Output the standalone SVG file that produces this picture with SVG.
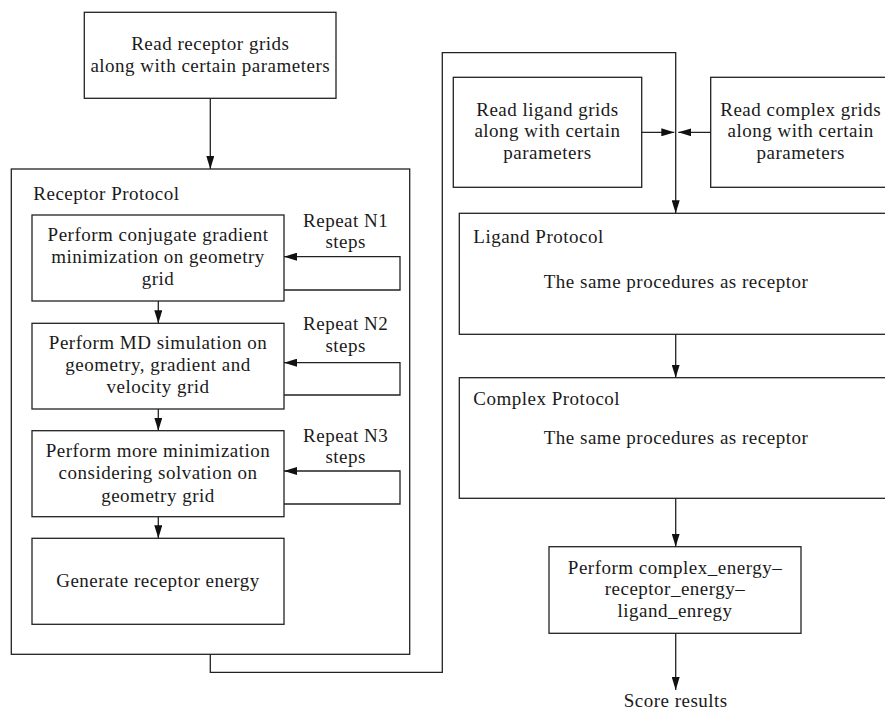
<svg xmlns="http://www.w3.org/2000/svg" width="885" height="710" viewBox="0 0 885 710">
<style>
.box{fill:#fff;stroke:#222;stroke-width:1.3}
.ln{fill:none;stroke:#222;stroke-width:1.3}
text{font-family:"Liberation Serif","Times New Roman",serif;font-size:19px;fill:#1a1a1a;letter-spacing:0.5px}
.c{text-anchor:middle}
</style>
<defs>
<marker id="ah" markerUnits="userSpaceOnUse" markerWidth="13" markerHeight="8" refX="13" refY="4" orient="auto">
<path d="M0,0 L13,4 L0,8 z" fill="#111"/>
</marker>
</defs>
<g id="receptor-grids">
<rect class="box" x="84.3" y="12.3" width="251.7" height="86"/>
<text class="c" x="210.3" y="50">Read receptor grids</text>
<text class="c" x="210.3" y="71.7">along with certain parameters</text>
</g>
<g id="receptor-protocol">
<rect class="box" x="11.3" y="169" width="398.4" height="485.3"/>
<text x="33.3" y="200">Receptor Protocol</text>
</g>
<g id="step1">
<rect class="box" x="32" y="215" width="252" height="86"/>
<text class="c" x="158" y="241">Perform conjugate gradient</text>
<text class="c" x="158" y="263.3">minimization on geometry</text>
<text class="c" x="158" y="285">grid</text>
</g>
<g id="repeat1">
<text class="c" x="345.7" y="226.7">Repeat N1</text>
<text class="c" x="345.7" y="248.3">steps</text>
</g>
<g id="step2">
<rect class="box" x="32" y="323.3" width="252" height="85.7"/>
<text class="c" x="158" y="349">Perform MD simulation on</text>
<text class="c" x="158" y="371">geometry, gradient and</text>
<text class="c" x="158" y="392.7">velocity grid</text>
</g>
<g id="repeat2">
<text class="c" x="345.7" y="330">Repeat N2</text>
<text class="c" x="345.7" y="351.7">steps</text>
</g>
<g id="step3">
<rect class="box" x="32" y="430.7" width="252" height="86"/>
<text class="c" x="158" y="456.7">Perform more minimization</text>
<text class="c" x="158" y="479.3">considering solvation on</text>
<text class="c" x="158" y="501.7">geometry grid</text>
</g>
<g id="repeat3">
<text class="c" x="345.7" y="441.7">Repeat N3</text>
<text class="c" x="345.7" y="463.3">steps</text>
</g>
<g id="step4">
<rect class="box" x="32" y="538.3" width="252" height="86"/>
<text class="c" x="158" y="586.7">Generate receptor energy</text>
</g>
<g id="ligand-grids">
<rect class="box" x="453.3" y="77.3" width="188.4" height="110"/>
<text class="c" x="547.5" y="115.5">Read ligand grids</text>
<text class="c" x="547.5" y="137">along with certain</text>
<text class="c" x="547.5" y="158.5">parameters</text>
</g>
<g id="complex-grids">
<rect class="box" x="710.7" y="77.3" width="190" height="110"/>
<text class="c" x="800.7" y="115.5">Read complex grids</text>
<text class="c" x="800.7" y="137">along with certain</text>
<text class="c" x="800.7" y="158.5">parameters</text>
</g>
<g id="ligand-protocol">
<rect class="box" x="459.3" y="213.3" width="440" height="121"/>
<text x="473.3" y="242.7">Ligand Protocol</text>
<text class="c" x="676" y="288.3">The same procedures as receptor</text>
</g>
<g id="complex-protocol">
<rect class="box" x="459.3" y="377.7" width="440" height="120.6"/>
<text x="473.3" y="405">Complex Protocol</text>
<text class="c" x="676" y="444">The same procedures as receptor</text>
</g>
<g id="score-calc">
<rect class="box" x="549" y="546.7" width="252" height="86.6"/>
<text class="c" x="675" y="573.5">Perform complex_energy–</text>
<text class="c" x="675" y="595">receptor_energy–</text>
<text class="c" x="675" y="616.7">ligand_enregy</text>
</g>
<g id="score-results">
<text class="c" x="675.7" y="706.7">Score results</text>
</g>
<g id="connectors">
<path class="ln" d="M210.3,98.3 V169" marker-end="url(#ah)"/>
<path class="ln" d="M284,290 H400 V256.7 H284" marker-end="url(#ah)"/>
<path class="ln" d="M284,395 H400 V362.7 H284" marker-end="url(#ah)"/>
<path class="ln" d="M284,504 H400 V471 H284" marker-end="url(#ah)"/>
<path class="ln" d="M158.3,301 V323.3" marker-end="url(#ah)"/>
<path class="ln" d="M158.3,409 V430.7" marker-end="url(#ah)"/>
<path class="ln" d="M158.3,516.7 V538.3" marker-end="url(#ah)"/>
<path class="ln" d="M210.3,654.3 V672.3 H442.3 V52.7 H675.7 V213.3" marker-end="url(#ah)"/>
<path class="ln" d="M641.7,132.3 H674.3" marker-end="url(#ah)"/>
<path class="ln" d="M710.7,132.3 H678.3" marker-end="url(#ah)"/>
<path class="ln" d="M675.7,334.3 V377.7" marker-end="url(#ah)"/>
<path class="ln" d="M675.7,498.3 V546.7" marker-end="url(#ah)"/>
<path class="ln" d="M675.7,633.3 V690" marker-end="url(#ah)"/>
</g>
</svg>
